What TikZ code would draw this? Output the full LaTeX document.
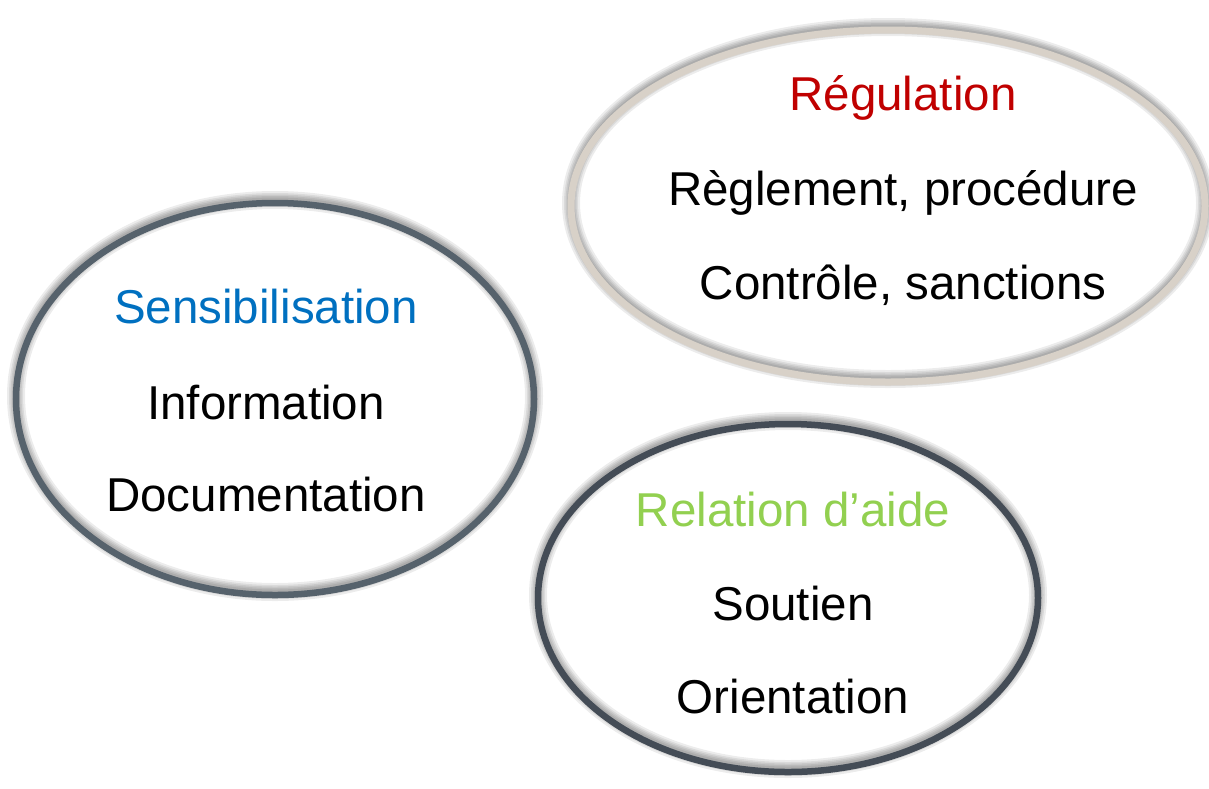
\documentclass[tikz,border=0pt]{standalone}
\usepackage{fontspec}
\setmainfont{Liberation Sans}
\definecolor{cblue}{HTML}{0070C0}
\definecolor{cred}{HTML}{C00000}
\definecolor{cgreen}{HTML}{92D050}
\definecolor{slate}{HTML}{56626C}
\definecolor{darkslate}{HTML}{444C56}
\definecolor{beige}{HTML}{D8D1C8}
\tikzset{
  lbl/.style={anchor=base, inner sep=0pt, font=\fontsize{47.5}{56}\selectfont},
  shadowring/.style={line width=#1, black, opacity=0.075},
}
\newcommand{\ringshadow}[3]{%
  \foreach \w in {18,14,11,8,5}{%
    \draw[shadowring=\w pt] ($(#1)+(0,-3)$) ellipse [x radius=#2, y radius=#3];
  }%
}
\usetikzlibrary{calc}
\begin{document}
\begin{tikzpicture}[x=1pt,y=-1pt]
\useasboundingbox (0,0) rectangle (1209,788);
\fill[white] (0,0) rectangle (1209,788);
% centres
\coordinate (cL) at (275,399);
\coordinate (cR) at (888,206);
\coordinate (cB) at (788,598);
% shadows
\ringshadow{cL}{259}{196}
\ringshadow{cR}{317}{176}
\ringshadow{cB}{250}{174}
% rings
\draw[slate, line width=6.5pt] (cL) ellipse [x radius=259, y radius=196];
\draw[beige, line width=7pt] (cR) ellipse [x radius=317, y radius=176];
\draw[darkslate, line width=6.5pt] (cB) ellipse [x radius=250, y radius=174];
% texts
\node[lbl, text=cblue] (sens) at (266,323) {Sensibilisation};
\node[lbl] (info) at (266,419) {Information};
\node[lbl] (doc) at (266,511) {Documentation};
\node[lbl, text=cred] (reg) at (903,110) {Régulation};
\node[lbl] (regl) at (903,205) {Règlement, procédure};
\node[lbl] (ctrl) at (903,299) {Contrôle, sanctions};
\node[lbl, text=cgreen] (rel) at (793,526) {Relation d’aide};
\node[lbl] (sout) at (793,620) {Soutien};
\node[lbl] (orient) at (793,713) {Orientation};
\end{tikzpicture}
\end{document}
